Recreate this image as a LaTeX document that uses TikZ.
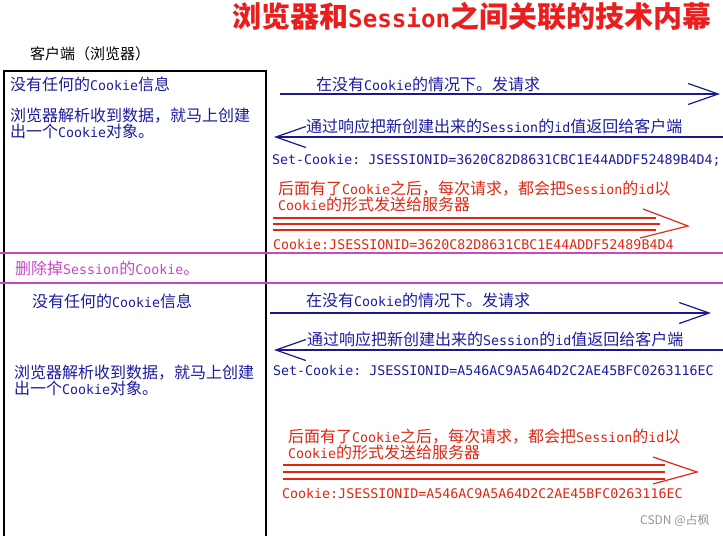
\documentclass[tikz,border=0pt]{standalone}
\usepackage{fontspec}
\setmonofont{DejaVu Sans Mono}
\newfontfamily\cjkfont{Noto Sans CJK SC}
\usetikzlibrary{arrows.meta}
\definecolor{tblue}{RGB}{28,28,160}
\definecolor{lblue}{RGB}{25,25,140}
\definecolor{tred}{RGB}{222,40,20}
\definecolor{ttl}{RGB}{235,30,30}
\definecolor{mag}{RGB}{200,70,200}
\definecolor{csdn}{RGB}{150,150,150}
\newcommand\cjksz{16pt}
\newcommand\Z[1]{{\fontsize{\cjksz}{\cjksz}\cjkfont #1}}
\begin{document}
\begin{tikzpicture}[x=1pt,y=-1pt,
  txt/.style={anchor=west, inner sep=0pt, text height=13pt, text depth=2pt, font=\fontsize{13.3pt}{16pt}\ttfamily},
  bluetxt/.style={txt, text=tblue},
  redtxt/.style={txt, text=tred},
  magtxt/.style={txt, text=mag},
  boxline/.style={draw=black, line width=1.3pt},
  magline/.style={draw=mag, line width=2pt},
  bluearr/.style={draw=lblue, line width=1.2pt, -{Straight Barb[length=30pt,width=21pt]}},
  redline/.style={draw=tred, line width=1.2pt}]
\useasboundingbox (0,0) rectangle (723,536);
\fill[white] (0,0) rectangle (723,536);

% title
\node[anchor=west, inner sep=0pt, text=ttl, font=\fontsize{24.2pt}{29pt}\ttfamily\bfseries] (title) at (232,16)
  {\renewcommand\cjksz{29pt}\Z{\bfseries 浏览器和}Session\Z{\bfseries 之间关联的技术内幕}};
\node[txt, text=black] (client) at (30,54) {\renewcommand\cjksz{15pt}\Z{客户端（浏览器）}};

% box and separators
\draw[boxline] (4,536) -- (4,71) -- (266,71) -- (266,536);
\draw[magline] (0,253) -- (723,253);
\draw[magline] (0,283) -- (723,283);

% ---- first part ----
\node[bluetxt] (l1) at (10,85) {\Z{没有任何的}Cookie\Z{信息}};
\node[bluetxt] (l2) at (10,116) {\Z{浏览器解析收到数据，就马上创建}};
\node[bluetxt] (l3) at (10,132) {\Z{出一个}Cookie\Z{对象。}};

\node[bluetxt] (t1) at (316,85) {\Z{在没有}Cookie\Z{的情况下。发请求}};
\coordinate (a1s) at (280,94);
\coordinate (a1e) at (720,94);
\draw[bluearr] (a1s) -- (a1e);

\node[bluetxt] (t2) at (306,127) {\Z{通过响应把新创建出来的}Session\Z{的}id\Z{值返回给客户端}};
\coordinate (a2s) at (723,137);
\coordinate (a2e) at (274,137);
\draw[bluearr] (a2s) -- (a2e);

\node[bluetxt] (sc1) at (272,159) {Set-Cookie: JSESSIONID=3620C82D8631CBC1E44ADDF52489B4D4;};

\node[redtxt] (r1a) at (278,189) {\Z{后面有了}Cookie\Z{之后，每次请求，都会把}Session\Z{的}id\Z{以}};
\node[redtxt] (r1b) at (278,205) {Cookie\Z{的形式发送给服务器}};
\coordinate (p1a) at (273,218); \coordinate (q1a) at (656,218);
\coordinate (p1b) at (273,224); \coordinate (q1b) at (660,224);
\coordinate (p1c) at (273,230); \coordinate (q1c) at (656,230);
\draw[redline] (p1a) -- (q1a);
\draw[redline] (p1b) -- (q1b);
\draw[redline] (p1c) -- (q1c);
\coordinate (h1u) at (643,209); \coordinate (h1t) at (688,226); \coordinate (h1d) at (640,238);
\draw[redline] (h1u) -- (h1t) -- (h1d);
\node[redtxt] (ck1) at (273,244) {Cookie:JSESSIONID=3620C82D8631CBC1E44ADDF52489B4D4};

% ---- delete ----
\node[magtxt] (del) at (15,269) {\Z{删除掉}Session\Z{的}Cookie\Z{。}};

% ---- second part ----
\node[bluetxt] (m1) at (32,302) {\Z{没有任何的}Cookie\Z{信息}};
\node[bluetxt] (m2) at (14,373) {\Z{浏览器解析收到数据，就马上创建}};
\node[bluetxt] (m3) at (14,389) {\Z{出一个}Cookie\Z{对象。}};

\node[bluetxt] (t3) at (306,301) {\Z{在没有}Cookie\Z{的情况下。发请求}};
\coordinate (a3s) at (270,313);
\coordinate (a3e) at (711,313);
\draw[bluearr] (a3s) -- (a3e);

\node[bluetxt] (t4) at (307,340) {\Z{通过响应把新创建出来的}Session\Z{的}id\Z{值返回给客户端}};
\coordinate (a4s) at (723,350);
\coordinate (a4e) at (274,350);
\draw[bluearr] (a4s) -- (a4e);

\node[bluetxt] (sc2) at (273,370) {Set-Cookie: JSESSIONID=A546AC9A5A64D2C2AE45BFC0263116EC};

\node[redtxt] (r2a) at (288,437) {\Z{后面有了}Cookie\Z{之后，每次请求，都会把}Session\Z{的}id\Z{以}};
\node[redtxt] (r2b) at (288,453) {Cookie\Z{的形式发送给服务器}};
\coordinate (p2a) at (283,465); \coordinate (q2a) at (665,465);
\coordinate (p2b) at (283,472); \coordinate (q2b) at (665,472);
\coordinate (p2c) at (283,479); \coordinate (q2c) at (665,479);
\draw[redline] (p2a) -- (q2a);
\draw[redline] (p2b) -- (q2b);
\draw[redline] (p2c) -- (q2c);
\coordinate (h2u) at (653,457); \coordinate (h2t) at (697,472); \coordinate (h2d) at (653,484);
\draw[redline] (h2u) -- (h2t) -- (h2d);
\node[redtxt] (ck2) at (282,493) {Cookie:JSESSIONID=A546AC9A5A64D2C2AE45BFC0263116EC};

\node[anchor=west, inner sep=0pt, text=csdn, font=\fontsize{12pt}{14pt}\cjkfont] (wm) at (640,520) {CSDN @占枫};
\end{tikzpicture}
\end{document}
